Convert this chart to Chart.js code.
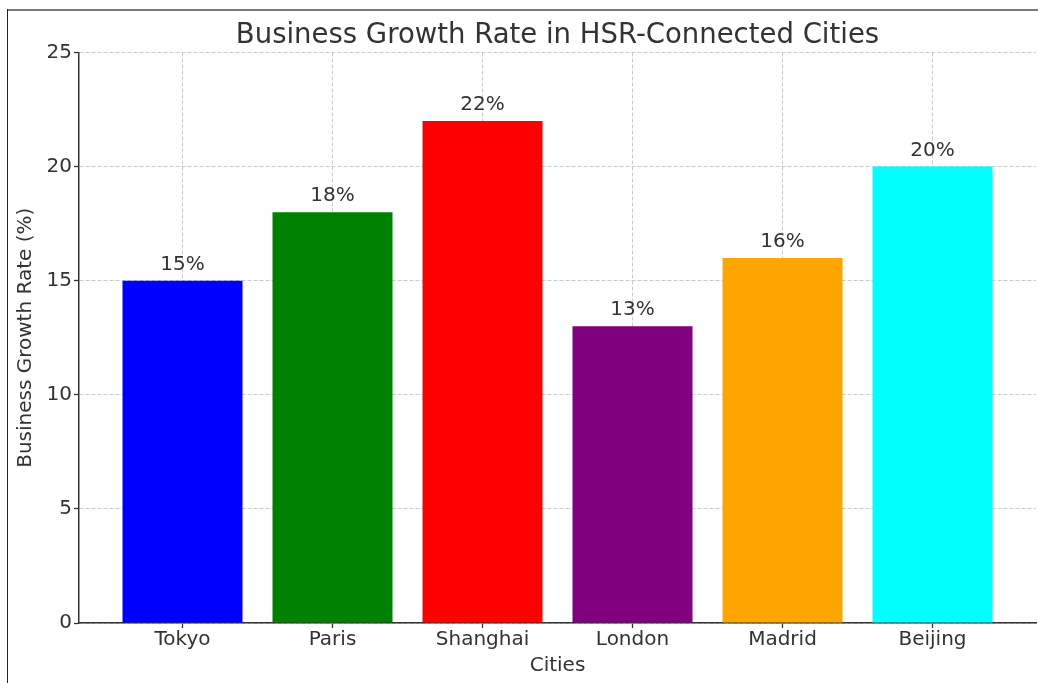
<!DOCTYPE html>
<html>
<head>
<meta charset="utf-8">
<script src="https://cdn.jsdelivr.net/npm/chart.js@4/dist/chart.umd.min.js"></script>
<style>
    html, body { margin: 0; padding: 0; background: #fff; }
    #wrap { position: relative; width: 1038px; height: 683px; overflow: hidden; }
    #chart { position: absolute; left: 0; top: 0; }
    .edge-top { position: absolute; left: 7px; right: 0; top: 9px; height: 2px; background: #7a7a7a; }
    .edge-left { position: absolute; left: 7px; top: 9px; bottom: 0; width: 1px; background: #222; }
</style>
</head>
<body>
<div id="wrap">
    <canvas id="chart" width="1038" height="683"></canvas>
    <div class="edge-top"></div>
    <div class="edge-left"></div>
</div>
<script>
const cities = ["Tokyo", "Paris", "Shanghai", "London", "Madrid", "Beijing"];
const growthRates = [15, 18, 22, 13, 16, 20];
const barColors = ["#0000ff", "#008000", "#ff0000", "#800080", "#ffa500", "#00ffff"];
const yTicks = [0, 5, 10, 15, 20, 25];

const textColor = "#333333";
const fontFamily = "'DejaVu Sans', sans-serif";

// value labels on top of each bar (no datalabels plugin available offline)
const barValueLabels = {
    id: "barValueLabels",
    afterDatasetsDraw(chart) {
        const { ctx } = chart;
        const meta = chart.getDatasetMeta(0);
        ctx.save();
        ctx.font = `20px ${fontFamily}`;
        ctx.fillStyle = textColor;
        ctx.textAlign = "center";
        ctx.textBaseline = "alphabetic";
        meta.data.forEach((bar, i) => {
            ctx.fillText(`${growthRates[i]}%`, bar.x, bar.y - 11);
        });
        ctx.restore();
    }
};

const gridColor = "rgba(190, 190, 190, 0.8)";

new Chart(document.getElementById("chart"), {
    type: "bar",
    plugins: [barValueLabels],
    data: {
        datasets: [{
            label: "Business Growth Rate",
            data: growthRates.map((v, i) => ({ x: i, y: v })),
            backgroundColor: barColors,
            borderWidth: 0,
            barPercentage: 0.8,
            categoryPercentage: 1.0
        }]
    },
    options: {
        responsive: false,
        animation: false,
        devicePixelRatio: 1,
        layout: { padding: { left: 0, right: 2, top: 0, bottom: 0 } },
        plugins: {
            legend: { display: false },
            tooltip: { enabled: false },
            title: {
                display: true,
                fullSize: false,
                text: "Business Growth Rate in HSR-Connected Cities",
                color: textColor,
                font: { family: fontFamily, size: 27.5, weight: "normal", lineHeight: 1.2 },
                padding: { top: 19.5, bottom: 0 }
            }
        },
        scales: {
            x: {
                type: "linear",
                min: -0.69,
                max: 5.69,
                offset: false,
                z: 1,
                afterBuildTicks(scale) {
                    scale.ticks = cities.map((c, i) => ({ value: i }));
                },
                afterFit(scale) { scale.height = 60; },
                ticks: {
                    color: textColor,
                    font: { family: fontFamily, size: 20 },
                    padding: 0,
                    maxRotation: 0,
                    autoSkip: false,
                    callback: (value) => cities[value]
                },
                grid: {
                    offset: false,
                    color: gridColor,
                    lineWidth: 1,
                    tickLength: 5,
                    tickColor: textColor,
                    tickWidth: 1.3
                },
                border: { display: true, color: "#333", width: 1.5, dash: [4, 2] },
                title: {
                    display: true,
                    text: "Cities",
                    color: textColor,
                    font: { family: fontFamily, size: 20 },
                    padding: { top: 0, bottom: 5 }
                }
            },
            y: {
                min: 0,
                max: 25,
                z: 1,
                afterBuildTicks(scale) {
                    scale.ticks = yTicks.map(v => ({ value: v }));
                },
                afterFit(scale) { scale.width = 79; },
                ticks: {
                    color: textColor,
                    font: { family: fontFamily, size: 20 },
                    padding: 2
                },
                grid: {
                    color: gridColor,
                    lineWidth: 1,
                    tickLength: 5,
                    tickColor: textColor,
                    tickWidth: 1.3
                },
                border: { display: true, color: "#333", width: 1.5, dash: [4, 2] },
                title: {
                    display: true,
                    text: "Business Growth Rate (%)",
                    color: textColor,
                    font: { family: fontFamily, size: 20 },
                    padding: { top: 14, bottom: 0 }
                }
            }
        }
    }
});
</script>
</body>
</html>
